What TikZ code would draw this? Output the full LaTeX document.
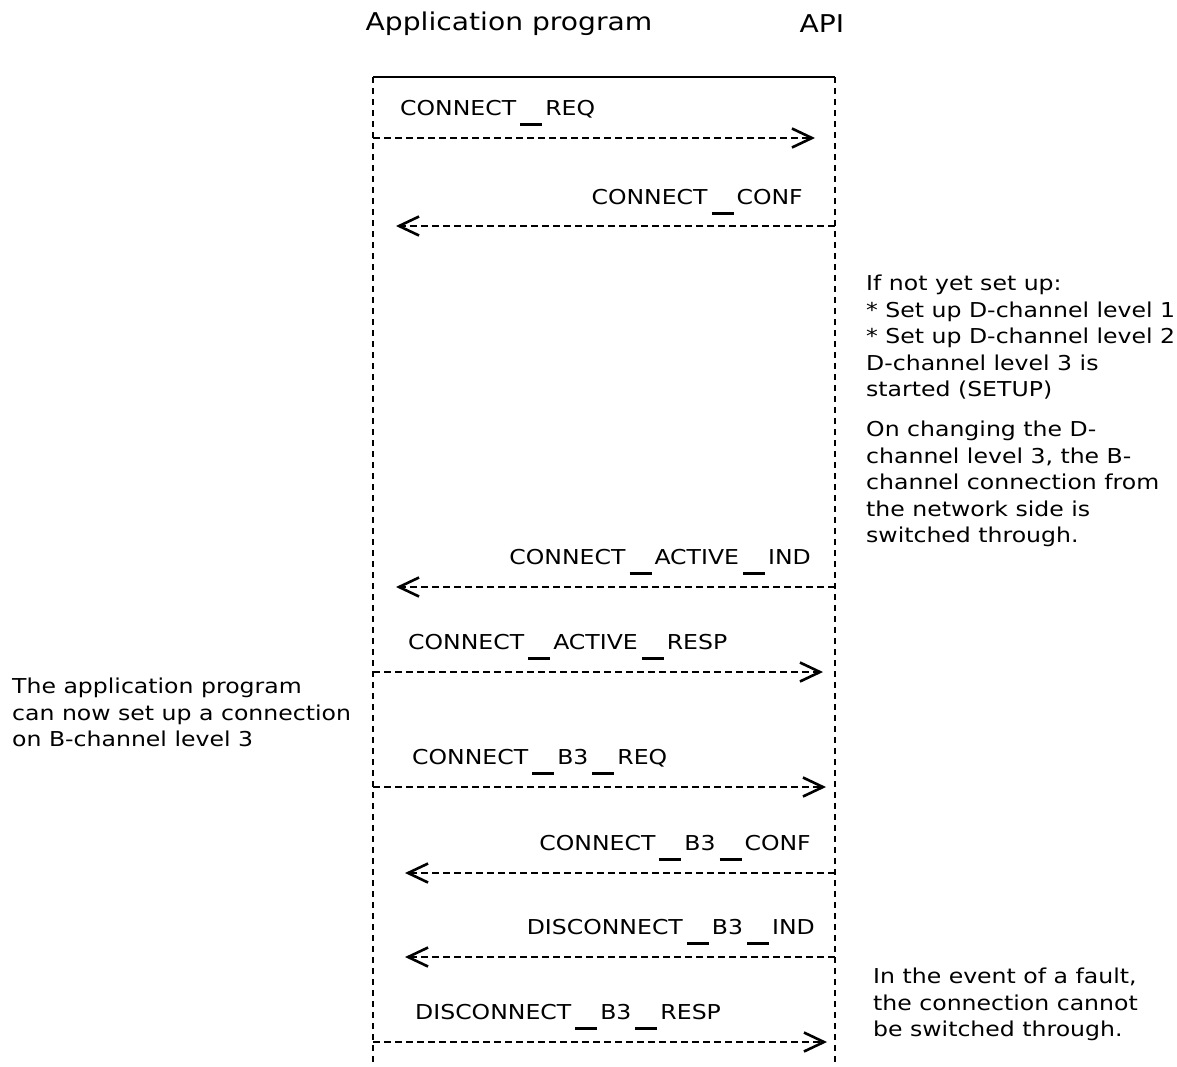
\documentclass[tikz,border=0pt]{standalone}
\usepackage{fontspec}
\setmainfont{DejaVu Sans}[FakeStretch=1.15]
\usetikzlibrary{arrows.meta}
% low underscore used inside the primitive names
\newcommand\uscore{\kern4pt\rule[-11pt]{22pt}{2.8pt}\kern3pt}
\begin{document}
\begin{tikzpicture}[x=1pt,y=-1pt,
  lifeline/.style={line width=2.2pt,dash pattern=on 6pt off 5pt},
  topline/.style={line width=2.8pt},
  msg/.style={line width=2.2pt,dash pattern=on 7pt off 4pt,
    -{Straight Barb[length=20pt,width=19pt,line width=2.6pt,sep=8pt]}},
  lbl/.style={inner sep=0pt,font=\fontsize{20.5}{24}\selectfont},
  hdr/.style={inner sep=0pt,font=\fontsize{24.5}{28}\selectfont},
  note/.style={inner sep=0pt,align=left,font=\fontsize{20.5}{26.5}\selectfont}]
\useasboundingbox (0,0) rectangle (1177,1066);

% column headers
\node[hdr] (app) at (509,24) {Application program};
\node[hdr] (api) at (822,24) {API};

% lifelines and the top bar
\coordinate (apptop) at (373,77);
\coordinate (appbot) at (373,1066);
\coordinate (apitop) at (835,77);
\coordinate (apibot) at (835,1066);
\draw[topline] (apptop) -- (apitop);
\draw[lifeline] (apptop) -- (appbot);
\draw[lifeline] (apitop) -- (apibot);

% message end points on both lifelines
\foreach \i/\y in {1/138,2/226,3/587,4/672,5/787,6/873,7/957,8/1042}{
  \coordinate (a\i) at (373,\y);
  \coordinate (b\i) at (835,\y);
}

% application program -> API
\draw[msg] (a1) -- ([xshift=-12pt]b1);
\draw[msg] (a4) -- ([xshift=-4pt]b4);
\draw[msg] (a5) -- ([xshift=-1pt]b5);
\draw[msg] (a8) -- ([xshift=0pt]b8);
% API -> application program
\draw[msg] (b2) -- ([xshift=15pt]a2);
\draw[msg] (b3) -- ([xshift=15pt]a3);
\draw[msg] (b6) -- ([xshift=24pt]a6);
\draw[msg] (b7) -- ([xshift=24pt]a7);

% primitive names
\node[lbl,anchor=base west] (m1) at (400,115) {CONNECT\uscore REQ};
\node[lbl,anchor=base east] (m2) at (803,204) {CONNECT\uscore CONF};
\node[lbl,anchor=base east] (m3) at (811,564) {CONNECT\uscore ACTIVE\uscore IND};
\node[lbl,anchor=base west] (m4) at (408,649) {CONNECT\uscore ACTIVE\uscore RESP};
\node[lbl,anchor=base west] (m5) at (412,764) {CONNECT\uscore B3\uscore REQ};
\node[lbl,anchor=base east] (m6) at (811,850) {CONNECT\uscore B3\uscore CONF};
\node[lbl,anchor=base east] (m7) at (815,934) {DISCONNECT\uscore B3\uscore IND};
\node[lbl,anchor=base west] (m8) at (415,1019) {DISCONNECT\uscore B3\uscore RESP};

% explanatory notes
\node[note,anchor=north west] (n1) at (866,275) {If not yet set up:\\
* Set up D-channel level 1\\
* Set up D-channel level 2\\
D-channel level 3 is\\
started (SETUP)};
\node[note,anchor=north west] (n2) at (866,421) {On changing the D-\\
channel level 3, the B-\\
channel connection from\\
the network side is\\
switched through.};
\node[note,anchor=north west] (n3) at (12,678) {The application program\\
can now set up a connection\\
on B-channel level 3};
\node[note,anchor=north west] (n4) at (873,968) {In the event of a fault,\\
the connection cannot\\
be switched through.};
\end{tikzpicture}
\end{document}
